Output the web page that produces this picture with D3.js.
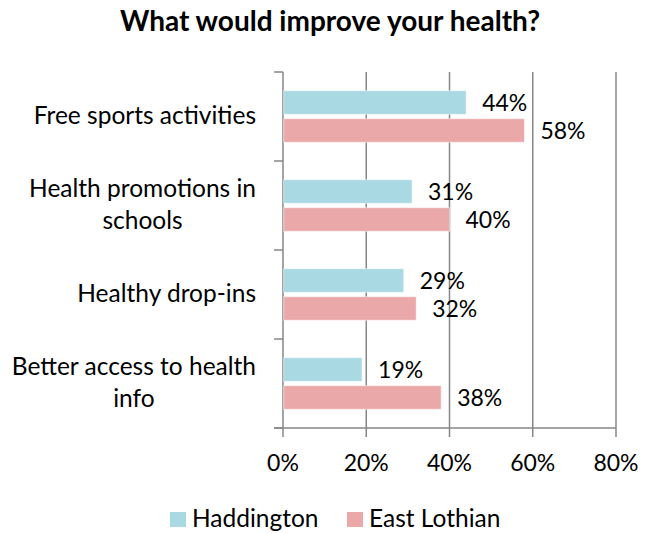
<!DOCTYPE html>
<html>
<head>
<meta charset="utf-8">
<script src="https://cdn.jsdelivr.net/npm/d3@7/dist/d3.min.js"></script>
<style>
  html, body { margin: 0; padding: 0; background: #fff; }
  svg { display: block; }
  text { font-family: Lato, "Open Sans", sans-serif; fill: #000; }
</style>
</head>
<body>
<svg id="chart" width="648" height="534"></svg>
<script>
// Survey answers, one entry per category (top to bottom)
const categories = [
  ["Free sports activities"],
  ["Health promotions in", "schools"],
  ["Healthy drop-ins"],
  ["Better access to health", "info"]
];
const seriesNames = ["Haddington", "East Lothian"];
const haddington = [44, 31, 29, 19];
const eastLothian = [58, 40, 32, 38];
const xTicks = [0, 20, 40, 60, 80];
const colors = ["#A9D9E3", "#EBA8A9"];

const svg = d3.select("#chart");
const plotLeft = 283, plotRight = 616, plotTop = 72, plotBottom = 428;
const numSize = 23;    // numbers: ticks and value labels
const wordSize = 24.5; // category labels and legend

const catKeys = categories.map(c => c.join(" "));
const values = [haddington, eastLothian];

const x = d3.scaleLinear().domain([0, 80]).range([plotLeft, plotRight]);
const y = d3.scaleBand().domain(catKeys).range([plotTop, plotBottom]).paddingInner(0).paddingOuter(0);
const ySub = d3.scaleBand().domain(seriesNames).range([0, y.bandwidth()])
  .paddingInner(0.157).paddingOuter(0.669);

// Title
svg.append("text")
  .attr("x", 330).attr("y", 31)
  .attr("text-anchor", "middle")
  .style("font-weight", "bold")
  .style("font-size", "28px")
  .text("What would improve your health?");

// Vertical gridlines with tick marks below the plot
const grid = svg.append("g");
xTicks.forEach(t => {
  grid.append("line")
    .attr("x1", x(t)).attr("x2", x(t))
    .attr("y1", plotTop).attr("y2", plotBottom + 9)
    .attr("stroke", "#878787").attr("stroke-width", 1.5);
});

// Bottom axis line
svg.append("line")
  .attr("x1", plotLeft - 9).attr("x2", plotRight)
  .attr("y1", plotBottom).attr("y2", plotBottom)
  .attr("stroke", "#878787").attr("stroke-width", 1.5);

// Category tick marks on the left axis at band boundaries
const boundaries = catKeys.map(k => y(k)).concat([plotBottom]);
boundaries.forEach(b => {
  svg.append("line")
    .attr("x1", plotLeft - 9).attr("x2", plotLeft)
    .attr("y1", b).attr("y2", b)
    .attr("stroke", "#878787").attr("stroke-width", 1.5);
});

// X tick labels
svg.append("g").selectAll("text")
  .data(xTicks).join("text")
  .attr("x", d => x(d)).attr("y", 471)
  .attr("text-anchor", "middle")
  .style("font-size", numSize + "px")
  .text(d => d + "%");

// Category labels: the text block is right aligned at labelRight,
// and wrapped lines are centred within that block
const lineH = 32;
const labelRight = 256;
const catG = svg.append("g");
categories.forEach((lines, i) => {
  const cy = y(catKeys[i]) + y.bandwidth() / 2 + 7;
  const start = cy - (lines.length - 1) * lineH / 2;
  const t = catG.append("text")
    .attr("text-anchor", "middle")
    .style("font-size", wordSize + "px");
  const spans = lines.map((ln, j) => t.append("tspan")
    .attr("y", start + j * lineH)
    .text(ln));
  const maxW = d3.max(spans, s => s.node().getComputedTextLength());
  spans.forEach(s => s.attr("x", labelRight - maxW / 2));
});

// Bars and value labels
const rows = [];
catKeys.forEach((k, i) => {
  seriesNames.forEach((s, j) => rows.push({ cat: k, series: s, value: values[j][i], color: colors[j] }));
});

svg.append("g").selectAll("rect")
  .data(rows).join("rect")
  .attr("x", x(0) + 0.75)
  .attr("y", d => y(d.cat) + ySub(d.series))
  .attr("width", d => x(d.value) - x(0) - 0.75)
  .attr("height", ySub.bandwidth())
  .attr("fill", d => d.color)
  .attr("stroke", "#fff").attr("stroke-opacity", 0.5).attr("stroke-width", 1);

svg.append("g").selectAll("text")
  .data(rows).join("text")
  .attr("x", d => x(d.value) + 16)
  .attr("y", d => y(d.cat) + ySub(d.series) + ySub.bandwidth() / 2)
  .attr("dy", "0.35em")
  .style("font-size", numSize + "px")
  .text(d => d.value + "%");

// Legend
const legendItems = [
  { name: seriesNames[0], color: colors[0], x: 170 },
  { name: seriesNames[1], color: colors[1], x: 347 }
];
const lg = svg.append("g");
legendItems.forEach(it => {
  lg.append("rect").attr("x", it.x).attr("y", 512).attr("width", 16).attr("height", 15).attr("fill", it.color);
  lg.append("text").attr("x", it.x + 22).attr("y", 527)
    .style("font-size", wordSize + "px").text(it.name);
});
</script>
</body>
</html>
